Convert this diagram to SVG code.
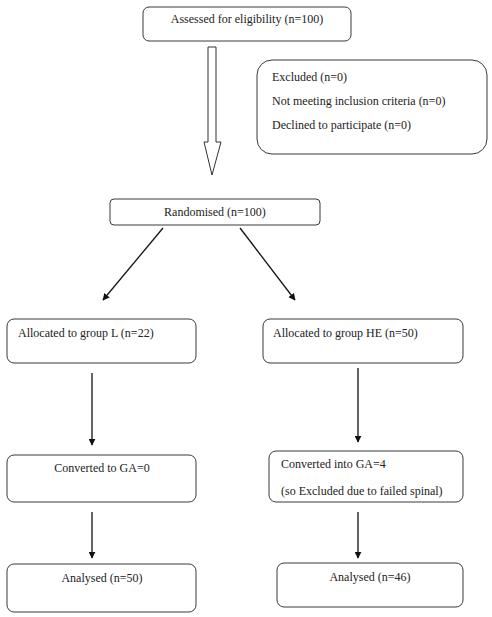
<svg xmlns="http://www.w3.org/2000/svg" width="492" height="617" viewBox="0 0 492 617">
<defs>
<style>
.box{fill:#fff;stroke:#3a3a3a;stroke-width:1}
.t{font-family:"Liberation Serif","Times New Roman",serif;font-size:12px;fill:#222}
.c{text-anchor:middle}
.ln{stroke:#111;stroke-width:1.3;fill:none}
</style>
<marker id="ah" viewBox="0 0 10 10" refX="9" refY="5" markerWidth="7" markerHeight="7" markerUnits="userSpaceOnUse" orient="auto">
<path d="M0,0 L10,5 L0,10 z" fill="#111"/>
</marker>
</defs>
<rect width="492" height="617" fill="#fff"/>
<g id="assessed">
<rect class="box" x="143" y="7" width="208" height="34" rx="6"/>
<text class="t c" x="247" y="23">Assessed for eligibility (n=100)</text>
</g>
<g id="excluded">
<rect class="box" x="257" y="60" width="230" height="94" rx="15"/>
<text class="t" x="272" y="81">Excluded (n=0)</text>
<text class="t" x="272" y="105">Not meeting inclusion criteria (n=0)</text>
<text class="t" x="272" y="129">Declined to participate (n=0)</text>
</g>
<g id="randomised">
<rect class="box" x="110" y="199" width="210" height="26" rx="4"/>
<text class="t c" x="215" y="216">Randomised (n=100)</text>
</g>
<g id="allocL">
<rect class="box" x="7" y="319" width="189" height="44" rx="7"/>
<text class="t" x="18" y="337">Allocated to group L (n=22)</text>
</g>
<g id="allocHE">
<rect class="box" x="263" y="319" width="200" height="44" rx="7"/>
<text class="t" x="273" y="337">Allocated to group HE (n=50)</text>
</g>
<g id="convL">
<rect class="box" x="7" y="455" width="189" height="47" rx="7"/>
<text class="t c" x="102" y="472">Converted to GA=0</text>
</g>
<g id="convHE">
<rect class="box" x="269" y="451" width="194" height="51" rx="7"/>
<text class="t" x="281" y="468">Converted into GA=4</text>
<text class="t" x="281" y="495">(so Excluded due to failed spinal)</text>
</g>
<g id="analL">
<rect class="box" x="7" y="564" width="189" height="48" rx="7"/>
<text class="t c" x="102" y="582">Analysed (n=50)</text>
</g>
<g id="analHE">
<rect class="box" x="277" y="563" width="186" height="44" rx="7"/>
<text class="t c" x="370" y="581">Analysed (n=46)</text>
</g>
<g id="connectors">
<path d="M208,47 L216,47 L216,142 L221,142 L212,175 L204,142 L208,142 Z" fill="#fff" stroke="#333" stroke-width="1"/>
<line class="ln" x1="163" y1="228" x2="103" y2="300" marker-end="url(#ah)"/>
<line class="ln" x1="240" y1="228" x2="295" y2="300" marker-end="url(#ah)"/>
<line class="ln" x1="92" y1="373" x2="92" y2="445" marker-end="url(#ah)"/>
<line class="ln" x1="358" y1="368" x2="358" y2="442" marker-end="url(#ah)"/>
<line class="ln" x1="92" y1="512" x2="92" y2="558" marker-end="url(#ah)"/>
<line class="ln" x1="358" y1="512" x2="358" y2="558" marker-end="url(#ah)"/>
</g>
</svg>
